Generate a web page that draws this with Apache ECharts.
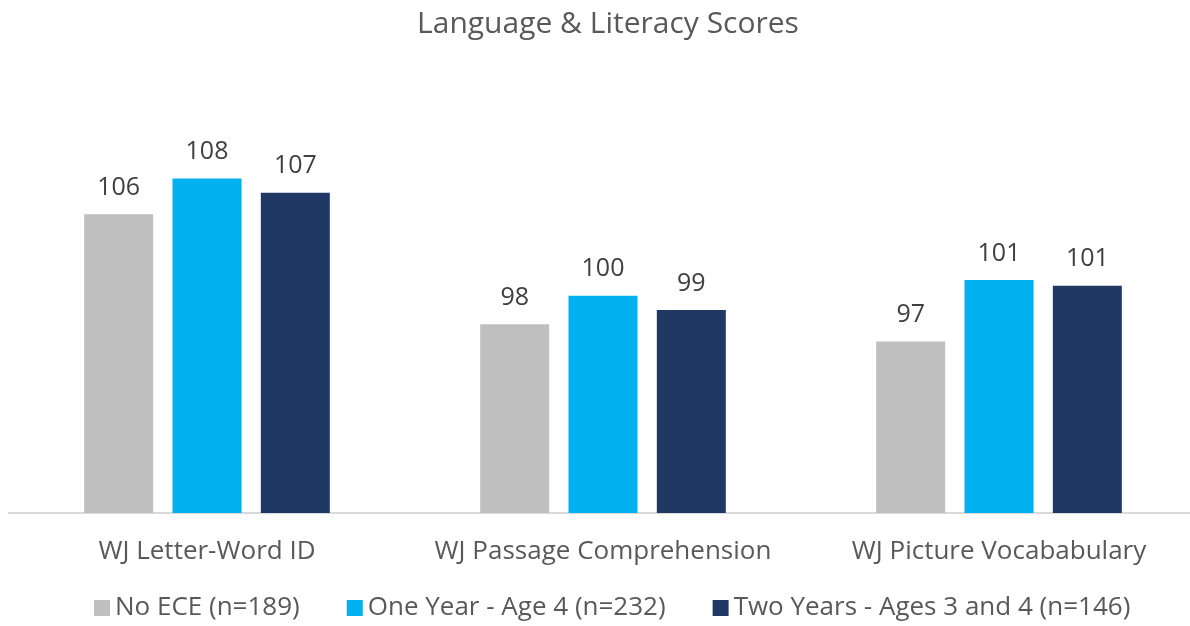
<!DOCTYPE html>
<html>
<head>
<meta charset="utf-8">
<script src="https://cdn.jsdelivr.net/npm/echarts@6/dist/echarts.min.js"></script>
<style>
  html, body { margin: 0; padding: 0; background: #fff; }
  #chart { width: 1190px; height: 626px; }
</style>
</head>
<body>
<div id="chart"></div>
<script>
// data
var categories = ['WJ Letter-Word ID', 'WJ Passage Comprehension', 'WJ Picture Vocababulary'];
var seriesNames = ['No ECE (n=189)', 'One Year - Age 4 (n=232)', 'Two Years - Ages 3 and 4 (n=146)'];
var noEce = [105.9, 98.2, 97.0];
var oneYear = [108.4, 100.2, 101.3];
var twoYears = [107.4, 99.2, 100.9];
var colors = ['#bfbfbf', '#00b0f0', '#203864'];

var font = 'Open Sans';
var chart = echarts.init(document.getElementById('chart'));

function bar(name, data) {
    return {
        name: name,
        type: 'bar',
        data: data,
        barWidth: 69,
        barGap: '28%',
        label: {
            show: true,
            position: 'top',
            distance: 14,
            color: '#404040',
            fontFamily: font,
            fontSize: 25,
            formatter: function (p) { return Math.round(p.value); }
        }
    };
}

chart.setOption({
    color: colors,
    animation: false,
    title: {
        text: 'Language & Literacy Scores',
        left: 603,
        textAlign: 'center',
        top: 4,
        textStyle: { color: '#595959', fontFamily: font, fontSize: 30, fontWeight: 'normal' }
    },
    legend: {
        data: seriesNames,
        bottom: 0,
        left: 89,
        icon: 'rect',
        itemWidth: 16,
        itemHeight: 16,
        itemGap: 47,
        textStyle: { color: '#595959', fontFamily: font, fontSize: 26 }
    },
    grid: { left: 9, width: 1188, top: 84, bottom: 113, outerBoundsMode: 'none' },
    xAxis: {
        type: 'category',
        data: categories,
        axisLine: { lineStyle: { color: '#d9d9d9', width: 2 } },
        axisTick: { show: false },
        axisLabel: { interval: 0, color: '#595959', fontFamily: font, fontSize: 26, margin: 26 }
    },
    yAxis: {
        type: 'value',
        min: 85,
        max: 115,
        show: false
    },
    series: [
        bar(seriesNames[0], noEce),
        bar(seriesNames[1], oneYear),
        bar(seriesNames[2], twoYears)
    ]
});
</script>
</body>
</html>
